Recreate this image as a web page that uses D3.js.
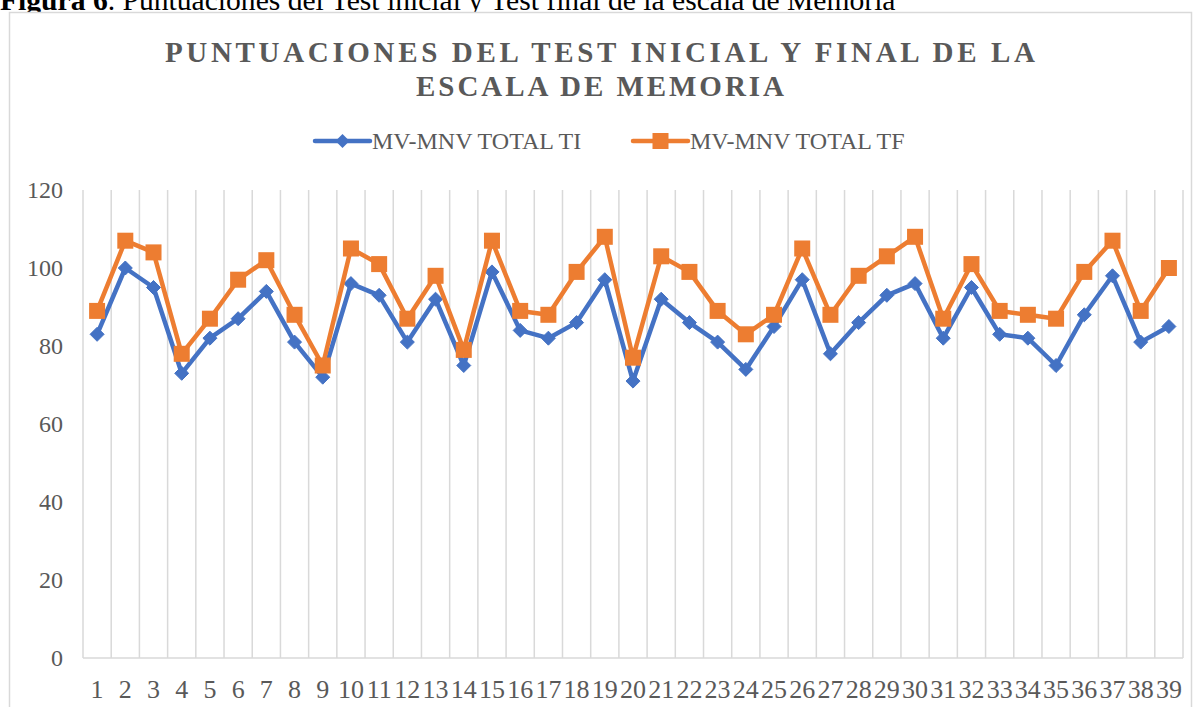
<!DOCTYPE html>
<html>
<head>
<meta charset="utf-8">
<script src="https://cdn.jsdelivr.net/npm/d3@7"></script>
<style>
  body { margin: 0; background: #fff; }
  svg text { font-family: "Liberation Serif", "Times New Roman", serif; }
</style>
</head>
<body>
<svg id="chart" width="1198" height="707"></svg>
<script>
// categories 1..39
const categories = d3.range(1, 40).map(String);
const seriesNames = ["MV-MNV TOTAL TI", "MV-MNV TOTAL TF"];
const totalTI = [83,100,95,73,82,87,94,81,72,96,93,81,92,75,99,84,82,86,97,71,92,86,81,74,85,97,78,86,93,96,82,95,83,82,75,88,98,81,85];
const totalTF = [89,107,104,78,87,97,102,88,75,105,101,87,98,79,107,89,88,99,108,77,103,99,89,83,88,105,88,98,103,108,87,101,89,88,87,99,107,89,100];
const yTicks = [0, 20, 40, 60, 80, 100, 120];

const svg = d3.select('#chart');
const blue = '#4472C4', orange = '#ED7D31', grey = '#595959';
const serif = '"Liberation Serif", "Times New Roman", serif';

// plot area
const plotLeft = 83, plotRight = 1183, plotTop = 190, plotBottom = 658;

const x = d3.scaleBand().domain(categories).range([plotLeft, plotRight]);
const y = d3.scaleLinear().domain([0, 120]).range([plotBottom, plotTop]);

// caption above the chart frame (cut at the top, like in the document)
const cap = svg.append('text').attr('x', 0).attr('y', 10)
  .attr('font-family', serif).style('font-size', '29.6px').attr('fill', '#000');
cap.append('tspan').style('font-weight', 'bold').text('Figura 6');
cap.append('tspan').text('. Puntuaciones del Test inicial y Test final de la escala de Memoria');

// chart frame
svg.append('rect')
  .attr('x', 9.5).attr('y', 12.5).attr('width', 1182).attr('height', 720)
  .attr('fill', '#fff').attr('stroke', '#d9d9d9').attr('stroke-width', 1.5);

// title
const titleLines = ['PUNTUACIONES DEL TEST INICIAL Y FINAL DE LA', 'ESCALA DE MEMORIA'];
const titleWidths = [870, 368];
titleLines.forEach((t, i) => {
  svg.append('text')
    .attr('x', 600 - titleWidths[i] / 2).attr('y', 62 + i * 34)
    .attr('textLength', titleWidths[i]).attr('lengthAdjust', 'spacing')
    .attr('font-family', serif)
    .style('font-size', '29px').style('font-weight', 'bold')
    .attr('fill', grey).text(t);
});

// vertical gridlines at category borders
const borders = categories.map(c => x(c)).concat([plotRight]);
svg.append('g').selectAll('line').data(borders).join('line')
  .attr('x1', d => d).attr('x2', d => d)
  .attr('y1', plotTop).attr('y2', plotBottom)
  .attr('stroke', '#d9d9d9').attr('stroke-width', 1.5);

// x axis line
svg.append('line')
  .attr('x1', plotLeft).attr('x2', plotRight).attr('y1', plotBottom).attr('y2', plotBottom)
  .attr('stroke', '#d9d9d9').attr('stroke-width', 1.5);

// y labels
svg.append('g').selectAll('text').data(yTicks).join('text')
  .attr('x', 63).attr('y', d => y(d) + 8)
  .attr('text-anchor', 'end')
  .attr('font-family', serif)
  .style('font-size', '24px').attr('fill', grey)
  .text(d => d);

// x labels
svg.append('g').selectAll('text').data(categories).join('text')
  .attr('x', d => x(d) + x.bandwidth() / 2).attr('y', 698)
  .attr('text-anchor', 'middle')
  .attr('font-family', serif)
  .style('font-size', '26px').attr('fill', grey)
  .text(d => d);

const cx = (d, i) => x(categories[i]) + x.bandwidth() / 2;
const line = d3.line().x(cx).y(d => y(d));

const diamond = d3.symbol().type(d3.symbolDiamond2).size(125);

function drawSeries(values, color, kind) {
  svg.append('path').datum(values)
    .attr('d', line).attr('fill', 'none')
    .attr('stroke', color).attr('stroke-width', 4.5).attr('stroke-linejoin', 'round');
  const g = svg.append('g');
  if (kind === 'diamond') {
    g.selectAll('path').data(values).join('path')
      .attr('d', diamond)
      .attr('transform', (d, i) => `translate(${cx(d, i)},${y(d)})`)
      .attr('fill', color).attr('stroke', color).attr('stroke-width', 1);
  } else {
    g.selectAll('rect').data(values).join('rect')
      .attr('x', (d, i) => cx(d, i) - 8).attr('y', d => y(d) - 8)
      .attr('width', 16).attr('height', 16)
      .attr('fill', color);
  }
}

drawSeries(totalTI, blue, 'diamond');
drawSeries(totalTF, orange, 'square');

// legend
const legend = [
  { name: seriesNames[0], color: blue, kind: 'diamond', x0: 315 },
  { name: seriesNames[1], color: orange, kind: 'square', x0: 633 }
];
const ly = 141;
legend.forEach(l => {
  svg.append('line')
    .attr('x1', l.x0).attr('x2', l.x0 + 55).attr('y1', ly).attr('y2', ly)
    .attr('stroke', l.color).attr('stroke-width', 4.5).attr('stroke-linecap', 'round');
  if (l.kind === 'diamond') {
    svg.append('path').attr('d', diamond)
      .attr('transform', `translate(${l.x0 + 27.5},${ly})`).attr('fill', l.color);
  } else {
    svg.append('rect').attr('x', l.x0 + 27.5 - 8).attr('y', ly - 8)
      .attr('width', 16).attr('height', 16).attr('fill', l.color);
  }
  svg.append('text')
    .attr('x', l.x0 + 57).attr('y', ly + 8)
    .attr('font-family', serif)
    .style('font-size', '24px').attr('fill', grey)
    .text(l.name);
});
</script>
</body>
</html>
